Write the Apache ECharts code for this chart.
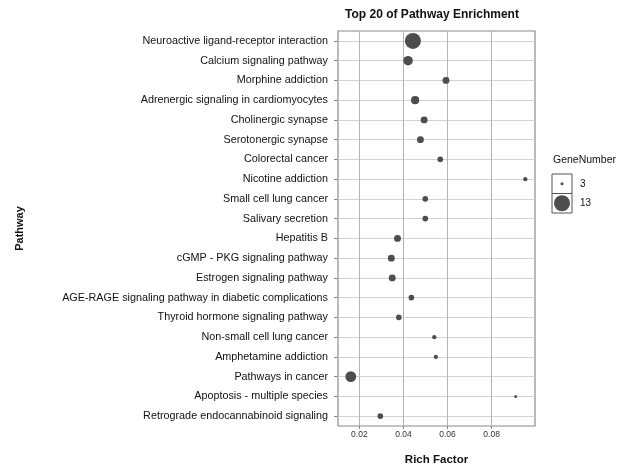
<!DOCTYPE html>
<html>
<head>
<meta charset="utf-8">
<script src="https://cdn.jsdelivr.net/npm/echarts@6/dist/echarts.min.js"></script>
<style>html,body{margin:0;padding:0;background:#fff}#c{width:626px;height:471px}</style>
</head>
<body>
<div id="c"></div>
<script>
const categories = [
  "Neuroactive ligand-receptor interaction",
  "Calcium signaling pathway",
  "Morphine addiction",
  "Adrenergic signaling in cardiomyocytes",
  "Cholinergic synapse",
  "Serotonergic synapse",
  "Colorectal cancer",
  "Nicotine addiction",
  "Small cell lung cancer",
  "Salivary secretion",
  "Hepatitis B",
  "cGMP - PKG signaling pathway",
  "Estrogen signaling pathway",
  "AGE-RAGE signaling pathway in diabetic complications",
  "Thyroid hormone signaling pathway",
  "Non-small cell lung cancer",
  "Amphetamine addiction",
  "Pathways in cancer",
  "Apoptosis - multiple species",
  "Retrograde endocannabinoid signaling"
];
const richFactor = [0.0443, 0.0421, 0.0593, 0.0453, 0.0494, 0.0477, 0.0567, 0.0953, 0.0499, 0.0499,
                    0.0373, 0.0345, 0.0349, 0.0436, 0.0379, 0.0540, 0.0547, 0.0161, 0.0909, 0.0295];
const geneNumber = [13, 8, 6, 7, 6, 6, 5, 4, 5, 5, 6, 6, 6, 5, 5, 4, 4, 9, 3, 5];
const legendValues = [3, 13];
const xTicks = [0.02, 0.04, 0.06, 0.08];

function sizeOf(n) { return 3 + (n - 3) * 1.3; }

const FONT = '"Liberation Sans", Arial, sans-serif';
const chart = echarts.init(document.getElementById('c'));
const data = categories.map((c, i) => [richFactor[i], c, geneNumber[i]]);

const gx = 552, gw = 20, gy = 174, gh = 19.5;
const legendGraphics = [
  { type: 'text', left: 553, top: 155, style: { text: 'GeneNumber', font: '10.5px ' + FONT, fill: '#111' } }
];
legendValues.forEach((v, k) => {
  const y = gy + k * gh;
  legendGraphics.push({ type: 'rect', shape: { x: gx, y: y, width: gw, height: gh }, style: { fill: '#fff', stroke: '#555', lineWidth: 1 } });
  legendGraphics.push({ type: 'circle', shape: { cx: gx + gw / 2, cy: y + gh / 2, r: sizeOf(v) / 2 }, style: { fill: '#4d4d4d' } });
  legendGraphics.push({ type: 'text', x: 580, y: y + gh / 2, style: { text: String(v), font: '10px ' + FONT, fill: '#111', verticalAlign: 'middle' } });
});

chart.setOption({
  animation: false,
  backgroundColor: '#fff',
  title: {
    text: 'Top 20 of Pathway Enrichment',
    left: 427, top: 4, textAlign: 'center',
    textStyle: { fontFamily: FONT, fontSize: 12, fontWeight: 'bold', color: '#111' }
  },
  grid: { left: 338, right: 91, top: 31, bottom: 41, show: true, borderColor: '#8a8a8a', borderWidth: 1.2, backgroundColor: '#fff' },
  xAxis: {
    type: 'value', min: 0.0103, max: 0.0997, splitNumber: 5,
    name: 'Rich Factor', nameLocation: 'middle', nameGap: 28,
    nameTextStyle: { fontFamily: FONT, fontSize: 11.5, fontWeight: 'bold', color: '#111' },
    axisLine: { show: false },
    axisTick: { show: true, length: 3, lineStyle: { color: '#888' }, customValues: xTicks },
    axisLabel: { fontFamily: FONT, fontSize: 8.5, color: '#333', margin: 4, customValues: xTicks,
      formatter: v => v.toFixed(2) },
    splitLine: { show: true, lineStyle: { color: '#b4b4b4', width: 1 } }
  },
  yAxis: {
    type: 'category', data: categories, inverse: true, boundaryGap: true,
    name: 'Pathway', nameLocation: 'middle', nameGap: 313, nameRotate: 90,
    nameTextStyle: { fontFamily: FONT, fontSize: 11, fontWeight: 'bold', color: '#111' },
    axisLine: { show: false },
    axisTick: { show: true, length: 4, alignWithLabel: true, interval: 0, lineStyle: { color: '#888' } },
    axisLabel: { fontFamily: FONT, fontSize: 10.8, color: '#111', margin: 10, interval: 0 },
    splitLine: { show: true, alignWithLabel: true, interval: 0, lineStyle: { color: '#d2d2d2', width: 1.2 } }
  },
  series: [{
    type: 'scatter',
    data: data,
    symbolSize: v => sizeOf(v[2]),
    itemStyle: { color: '#4d4d4d', opacity: 1 }
  }],
  graphic: legendGraphics
});
</script>
</body>
</html>
